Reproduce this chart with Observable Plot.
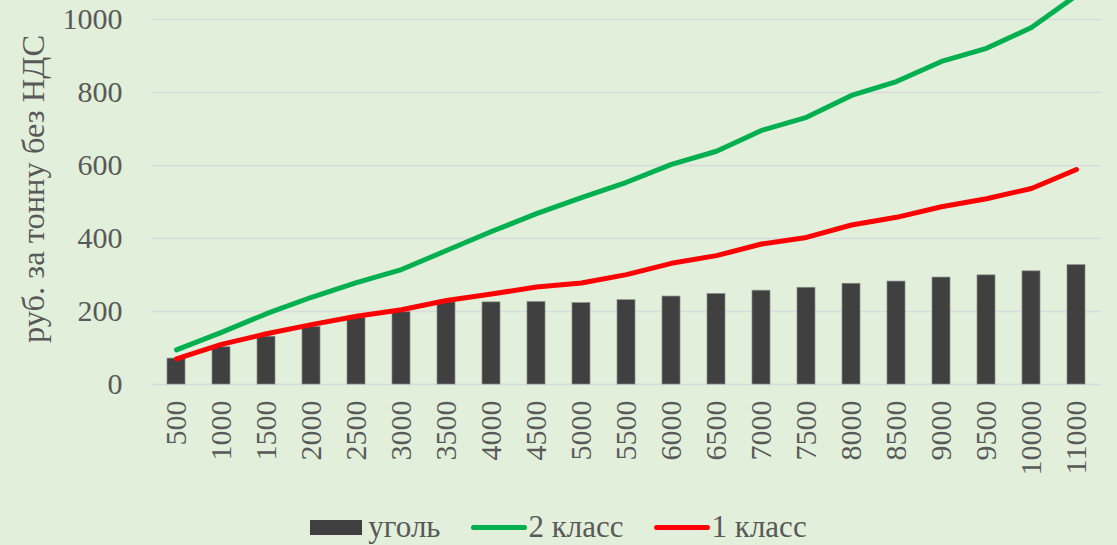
<!DOCTYPE html>
<html><head><meta charset="utf-8">
<script src="https://cdn.jsdelivr.net/npm/d3@7"></script>
<script src="https://cdn.jsdelivr.net/npm/@observablehq/plot@0.6"></script>
<style>
html,body{margin:0;padding:0;background:#e2efda;}
#chart{width:1117px;height:545px;position:relative;overflow:hidden;font-family:"Liberation Serif","Times New Roman",serif;color:#595959;}
#chart svg{position:absolute;left:0;top:0;}
.ytitle{position:absolute;left:33px;top:189px;transform:translate(-50%,-50%) rotate(-90deg);white-space:nowrap;font-size:32.5px;line-height:1;color:#595959;}
.legend{position:absolute;left:0;top:505px;width:1117px;height:44px;display:flex;justify-content:center;align-items:center;font-size:31px;color:#595959;}
.legend .item{display:flex;align-items:center;margin:0 15px;}
.legend .box{width:52px;height:15px;background:#404040;margin-right:6px;}
.legend .ln{width:56px;height:5px;border-radius:3px;margin-right:2px;}
</style></head><body><div id="chart"></div>
<script>
const categories = ["500","1000","1500","2000","2500","3000","3500","4000","4500","5000","5500","6000","6500","7000","7500","8000","8500","9000","9500","10000","11000"];
const coal   = [71, 102, 131, 157, 182, 198, 225, 225, 226, 223, 231, 241, 248, 257, 265, 276, 282, 293, 299, 310, 327];
const class2 = [95, 143, 194, 239, 279, 315, 367, 419, 468, 512, 554, 603, 639, 696, 732, 792, 830, 885, 921, 978, 1066];
const class1 = [70, 110, 139, 164, 187, 205, 230, 248, 267, 278, 301, 332, 353, 385, 403, 437, 458, 487, 509, 537, 589];
const yTicks = [0, 200, 400, 600, 800, 1000];
const seriesNames = ["уголь", "2 класс", "1 класс"];
const seriesColors = ["#404040", "#00b050", "#ff0000"];
const axisTitle = "руб. за тонну без НДС";

const rows = categories.map((c, i) => ({cat: c, coal: coal[i], c2: class2[i], c1: class1[i]}));

const svg = Plot.plot({
  width: 1117, height: 495,
  marginLeft: 151, marginRight: 16, marginTop: 19, marginBottom: 111,
  style: {background: "transparent", fontFamily: "Liberation Serif", fontSize: "30px", color: "#595959", overflow: "visible"},
  x: {type: "band", domain: categories, paddingInner: 0.6, paddingOuter: 0.3, label: null, tickSize: 0, tickPadding: 16, tickRotate: -90},
  y: {domain: [0, 1000], ticks: yTicks, tickFormat: d => String(d), tickSize: 0, tickPadding: 29, label: null},
  marks: [
    Plot.ruleY(yTicks, {stroke: "#d9d9de", strokeWidth: 1.5}),
    Plot.barY(rows, {x: "cat", y: "coal", fill: seriesColors[0], stroke: "#8a8a8a", strokeWidth: 0.7}),
    Plot.lineY(rows, {x: "cat", y: "c2", stroke: seriesColors[1], strokeWidth: 5, strokeLinecap: "round", strokeLinejoin: "round"}),
    Plot.lineY(rows, {x: "cat", y: "c1", stroke: seriesColors[2], strokeWidth: 5, strokeLinecap: "round", strokeLinejoin: "round"})
  ]
});
const chart = document.getElementById("chart");
chart.appendChild(svg);

const title = document.createElement("div");
title.className = "ytitle";
title.textContent = axisTitle;
chart.appendChild(title);

const legend = document.createElement("div");
legend.className = "legend";
seriesNames.forEach((name, i) => {
  const item = document.createElement("div");
  item.className = "item";
  const sw = document.createElement("span");
  if (i === 0) { sw.className = "box"; }
  else { sw.className = "ln"; sw.style.background = seriesColors[i]; }
  const t = document.createElement("span");
  t.textContent = name;
  item.appendChild(sw); item.appendChild(t);
  legend.appendChild(item);
});
chart.appendChild(legend);
</script>
</body></html>
